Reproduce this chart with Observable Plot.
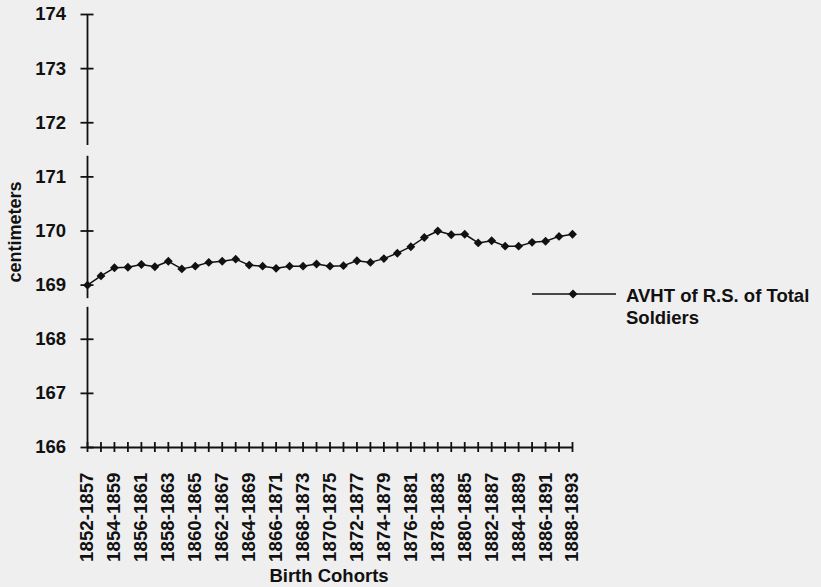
<!DOCTYPE html>
<html><head><meta charset="utf-8">
<script src="https://cdn.jsdelivr.net/npm/d3@7"></script>
<script src="https://cdn.jsdelivr.net/npm/@observablehq/plot@0.6"></script>
<style>
body{margin:0;background:#efefef;}
#wrap{position:relative;width:821px;height:587px;font-family:"Liberation Sans",Arial,sans-serif;font-weight:bold;color:#111;overflow:hidden;}
#ylab{position:absolute;left:15px;top:232px;transform:translate(-50%,-50%) rotate(-90deg);font-size:18px;white-space:nowrap;}
#xlab{position:absolute;left:329px;top:576px;transform:translate(-50%,-50%);font-size:18.5px;white-space:nowrap;}
#legend{position:absolute;left:532px;top:285px;font-size:18.5px;line-height:22px;}
#legend svg{position:absolute;left:0;top:0;}
#legend .t{position:absolute;left:94px;top:0;white-space:nowrap;}
</style></head><body>
<div id="wrap"><div id="chart"></div>
<div id="ylab">centimeters</div>
<div id="xlab">Birth Cohorts</div>
<div id="legend"><svg width="90" height="20"><line x1="0" y1="9" x2="84" y2="9" stroke="#111" stroke-width="1.6"/><path d="M41,4.5L45.5,9L41,13.5L36.5,9Z" fill="#111"/></svg><div class="t">AVHT of R.S. of Total<br>Soldiers</div></div>
</div>
<script>
const cohorts = ["1852-1857","1853-1858","1854-1859","1855-1860","1856-1861","1857-1862","1858-1863","1859-1864","1860-1865","1861-1866","1862-1867","1863-1868","1864-1869","1865-1870","1866-1871","1867-1872","1868-1873","1869-1874","1870-1875","1871-1876","1872-1877","1873-1878","1874-1879","1875-1880","1876-1881","1877-1882","1878-1883","1879-1884","1880-1885","1881-1886","1882-1887","1883-1888","1884-1889","1885-1890","1886-1891","1887-1892","1888-1893"];
const heights = [169.00,169.17,169.32,169.33,169.38,169.34,169.44,169.30,169.35,169.42,169.44,169.48,169.37,169.35,169.31,169.35,169.35,169.39,169.35,169.36,169.45,169.42,169.49,169.59,169.71,169.88,170.00,169.93,169.94,169.78,169.82,169.72,169.72,169.79,169.81,169.90,169.94];
const yTicks = [166,167,168,169,170,171,172,173,174];
const labeledCohorts = cohorts.filter((d, i) => i % 2 === 0);
const axisSegments = [[166,168.59],[168.75,171.38],[171.58,174]];

const data = cohorts.map((c, i) => ({cohort: c, avht: heights[i]}));

const plot = Plot.plot({
  width: 821, height: 587,
  marginLeft: 87, marginRight: 249, marginTop: 14, marginBottom: 140,
  style: {fontFamily: "Liberation Sans, Arial, sans-serif", fontWeight: "bold", fontSize: "18px", color: "#111", background: "transparent", overflow: "visible"},
  x: {type: "point", domain: cohorts, padding: 0, round: false, label: null},
  y: {domain: [166, 174], label: null},
  marks: [
    Plot.ruleY([166], {stroke: "#111", strokeWidth: 1.8}),
    Plot.ruleX(axisSegments, {x: () => cohorts[0], y1: d => d[0], y2: d => d[1], stroke: "#111", strokeWidth: 1.8}),
    Plot.axisY(yTicks, {tickSize: 13, dx: 6.5, tickPadding: 15, fontSize: 18.5, tickFormat: d3.format("d"), strokeWidth: 1.8, stroke: "#111", label: null}),
    Plot.axisX(cohorts, {tickSize: 10, dy: -5, tickFormat: () => "", strokeWidth: 1.8, stroke: "#111", label: null}),
    Plot.axisX(labeledCohorts, {tickSize: 0, tickPadding: 25, tickRotate: -90, fontSize: 18.7, label: null}),
    Plot.line(data, {x: "cohort", y: "avht", stroke: "#111", strokeWidth: 1.5}),
    Plot.dot(data, {x: "cohort", y: "avht", symbol: "diamond2", r: 4, fill: "#111", stroke: "none"})
  ]
});
document.getElementById("chart").appendChild(plot);
</script>
</body></html>
